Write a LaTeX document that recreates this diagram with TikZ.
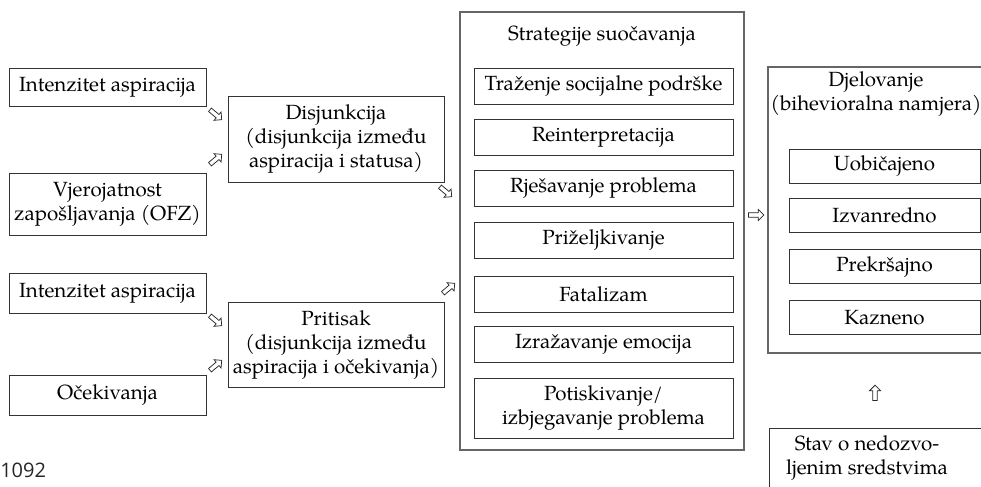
\documentclass[tikz,border=0pt]{standalone}
\usepackage{fontspec}
\setmainfont{TeX Gyre Pagella}
\newfontfamily\numfont{Open Sans}
\usetikzlibrary{shapes.arrows}
\begin{document}
\begin{tikzpicture}[x=0.75pt,y=-0.75pt,
  box/.style={draw=black!80, line width=0.6pt, align=center, inner sep=0pt,
    font=\fontsize{15.4}{18}\selectfont, text=black},
  outer/.style={draw=black!60, line width=0.9pt, inner sep=0pt},
  txt/.style={align=center, inner sep=0pt, font=\fontsize{15.4}{18}\selectfont, text=black},
  harrow/.style={single arrow, draw=black!85, fill=white, line width=0.55pt,
    minimum height=11.5pt, inner sep=1.4pt, single arrow head extend=2.4pt,
    single arrow head indent=0pt}]
\useasboundingbox (0,0) rectangle (981,486);
\clip (0,0) rectangle (981,486);
% left column
\node[box, minimum width=147.75pt, minimum height=28.5pt] (ia1) at (107.5,87) {Intenzitet aspiracija};
\node[box, minimum width=147.75pt, minimum height=46.5pt] (vz) at (107.5,204) {Vjerojatnost\\zapošljavanja (OFZ)};
\node[box, minimum width=147.75pt, minimum height=30pt] (ia2) at (107.5,293) {Intenzitet aspiracija};
\node[box, minimum width=147.75pt, minimum height=30pt] (ok) at (107.5,395) {Očekivanja};
% middle column
\node[box, minimum width=162pt, minimum height=64.5pt] (dis) at (336,139) {Disjunkcija\\(disjunkcija između\\aspiracija i statusa)};
\node[box, minimum width=162pt, minimum height=63.75pt] (pri) at (336,344.5) {Pritisak\\(disjunkcija između\\aspiracija i očekivanja)};
% strategies
\node[outer, minimum width=213pt, minimum height=328.5pt] (str) at (602,231) {};
\node[txt] (strt) at (602,36) {Strategije suočavanja};
\node[box, minimum width=194.25pt, minimum height=27pt] (s1) at (603.5,86) {Traženje socijalne podrške};
\node[box, minimum width=194.25pt, minimum height=27pt] (s2) at (603.5,137.5) {Reinterpretacija};
\node[box, minimum width=194.25pt, minimum height=27pt] (s3) at (603.5,188) {Rješavanje problema};
\node[box, minimum width=194.25pt, minimum height=27pt] (s4) at (603.5,240) {Priželjkivanje};
\node[box, minimum width=194.25pt, minimum height=27pt] (s5) at (603.5,294) {Fatalizam};
\node[box, minimum width=194.25pt, minimum height=27pt] (s6) at (603.5,344.5) {Izražavanje emocija};
\node[box, minimum width=194.25pt, minimum height=45pt] (s7) at (603.5,408) {Potiskivanje/\\izbjegavanje problema};
% action
\node[outer, minimum width=162.75pt, minimum height=214.5pt] (dj) at (876.5,210) {};
\node[txt] (djt) at (876,94) {Djelovanje\\(bihevioralna namjera)};
\node[box, minimum width=143.25pt, minimum height=25.5pt] (d1) at (884.5,166) {Uobičajeno};
\node[box, minimum width=143.25pt, minimum height=25.5pt] (d2) at (884.5,215.5) {Izvanredno};
\node[box, minimum width=143.25pt, minimum height=25.5pt] (d3) at (884.5,266.5) {Prekršajno};
\node[box, minimum width=143.25pt, minimum height=25.5pt] (d4) at (884.5,317.5) {Kazneno};
\node[box, minimum width=165.75pt, minimum height=54pt] (stav) at (879.5,464) {};
\node[txt] (stavt) at (867,458) {Stav o nedozvo-\\ljenim sredstvima};
% arrows
\node[harrow, rotate=-40] (a1) at (215,114) {};
\node[harrow, rotate=40] (a2) at (215,160) {};
\node[harrow, rotate=-40] (a3) at (445,191) {};
\node[harrow, rotate=40] (a4) at (448,289) {};
\node[harrow, rotate=-40] (a5) at (215,320) {};
\node[harrow, rotate=40] (a6) at (215,366) {};
\node[harrow] (a7) at (755,215) {};
\node[harrow, rotate=90] (a8) at (875,394) {};
% page number
\node[inner sep=0pt, font=\numfont\fontsize{15}{18}\selectfont, text=black!85, anchor=west] (pg) at (0,470) {1092};
\end{tikzpicture}
\end{document}
